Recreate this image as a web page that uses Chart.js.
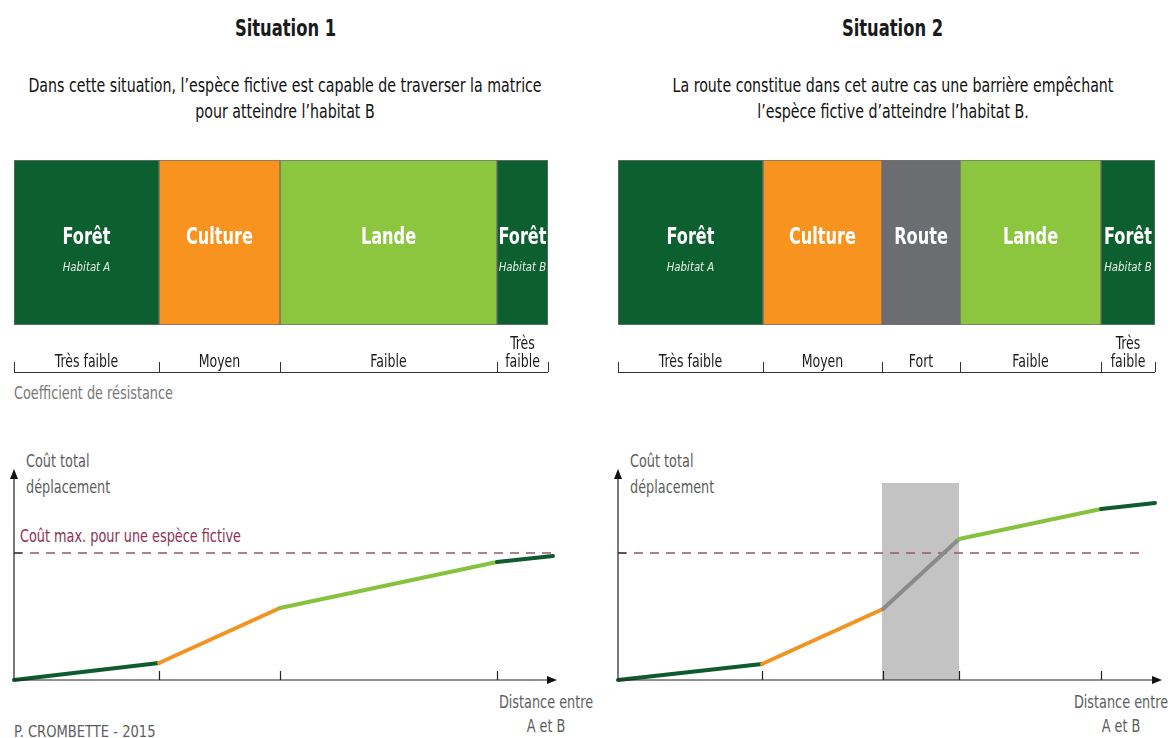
<!DOCTYPE html>
<html lang="fr">
<head>
<meta charset="utf-8">
<script src="https://cdn.jsdelivr.net/npm/chart.js@4/dist/chart.umd.min.js"></script>
<style>
  html, body { margin: 0; padding: 0; background: #fff; }
  body { width: 1170px; height: 738px; position: relative; overflow: hidden;
         font-family: 'DejaVu Sans Condensed', 'DejaVu Sans', sans-serif; color: #1a1a1a; }
  canvas { position: absolute; }
  .t { position: absolute; white-space: nowrap; transform-origin: 0 0; }
  .c { text-align: center; transform-origin: 50% 0; }
  .title { font-weight: bold; font-size: 23px; width: 585px; top: 15px; transform: scaleX(0.79); }
  .sub { font-size: 19px; width: 800px; top: 72px; line-height: 26px; transform: scaleX(0.83); color: #111; }
  .axis { font-size: 17px; color: #5d5d5d; line-height: 26px; transform: scaleX(0.84); }
  .dist { font-size: 17px; color: #5d5d5d; line-height: 24px; width: 140px; transform: scaleX(0.84); }
</style>
</head>
<body>
<div class="t c title" style="left:-7px">Situation 1</div>
<div class="t c title" style="left:600px">Situation 2</div>
<div class="t c sub" style="left:-115px">Dans cette situation, l’espèce fictive est capable de traverser la matrice<br>pour atteindre l’habitat B</div>
<div class="t c sub" style="left:493px">La route constitue dans cet autre cas une barrière empêchant<br>l’espèce fictive d’atteindre l’habitat B.</div>
<div class="t axis" style="left:14px;top:380px;color:#777">Coefficient de résistance</div>

<div class="t axis" style="left:26px;top:448px">Coût total<br>déplacement</div>
<div class="t axis" style="left:630px;top:448px">Coût total<br>déplacement</div>
<div class="t axis" style="left:20px;top:523px;color:#8e3050">Coût max. pour une espèce fictive</div>
<div class="t c dist" style="left:476px;top:690px">Distance entre<br>A et B</div>
<div class="t c dist" style="left:1051px;top:690px">Distance entre<br>A et B</div>
<div class="t axis" style="left:14px;top:719px;font-size:16px;transform:scaleX(0.91)">P. CROMBETTE - 2015</div>

<canvas id="blocks1" width="585" height="250" style="left:0;top:150px"></canvas>
<canvas id="blocks2" width="570" height="250" style="left:600px;top:150px"></canvas>
<canvas id="cost1" width="585" height="298" style="left:0;top:440px"></canvas>
<canvas id="cost2" width="570" height="298" style="left:600px;top:440px"></canvas>

<script>
// Situation 1 : occupation du sol entre A et B
const s1Zones = ['Forêt', 'Culture', 'Lande', 'Forêt'];
const s1Notes = ['Habitat A', '', '', 'Habitat B'];
const s1Widths = [145, 121, 217, 51];
const s1Resist = ['Très faible', 'Moyen', 'Faible', 'Très faible'];
const s1Dist = [0, 145, 266, 483, 539];
const s1Cost = [0, 17, 72, 118, 124];

// Situation 2 : la route fait barrière
const s2Zones = ['Forêt', 'Culture', 'Route', 'Lande', 'Forêt'];
const s2Notes = ['Habitat A', '', '', '', 'Habitat B'];
const s2Widths = [145, 119, 78, 141, 54];
const s2Resist = ['Très faible', 'Moyen', 'Fort', 'Faible', 'Très faible'];
const s2Dist = [0, 144, 265, 341, 483, 537];
const s2Cost = [0, 16, 71, 141, 171, 177];
const s2Barrier = [264, 341];
const s2BarrierTop = 197;

const maxCost = 127;
const costAxisMax = 211;

const FONT = "'DejaVu Sans Condensed', 'DejaVu Sans', sans-serif";
const zoneColors = { 'Forêt': '#0c5f2f', 'Culture': '#f7931e', 'Lande': '#8cc63f', 'Route': '#6c6d70' };
const lineColors = { 'Forêt': '#0f5a2e', 'Culture': '#f39322', 'Lande': '#86c23e', 'Route': '#8a8a8a' };

Chart.defaults.animation = false;
Chart.defaults.font.family = FONT;

// narrow text (the original uses a condensed face)
function narrowText(ctx, txt, x, y, sx) {
  ctx.save();
  ctx.translate(x, y);
  ctx.scale(sx, 1);
  ctx.fillText(txt, 0, 0);
  ctx.restore();
}

// labels inside blocks + resistance bracket below
const blockLabels = {
  id: 'blockLabels',
  afterDatasetsDraw(chart, args, opts) {
    const ctx = chart.ctx;
    const area = chart.chartArea;
    ctx.save();
    ctx.textAlign = 'center';
    chart.data.datasets.forEach((ds, i) => {
      const bar = chart.getDatasetMeta(i).data[0];
      const cx = (bar.x + bar.base) / 2;
      ctx.fillStyle = '#fff';
      ctx.font = 'bold 23px ' + FONT;
      narrowText(ctx, ds.label, cx, area.top + 84, 0.78);
      if (opts.notes[i]) {
        ctx.font = 'italic 13px ' + FONT;
        ctx.fillStyle = '#e8f0e8';
        narrowText(ctx, opts.notes[i], cx, area.top + 111, 0.87);
      }
    });
    // resistance row
    const yLine = area.bottom + 47;
    ctx.strokeStyle = '#333';
    ctx.lineWidth = 1;
    ctx.beginPath();
    ctx.moveTo(area.left, yLine + 0.5);
    ctx.lineTo(area.right, yLine + 0.5);
    const xs = chart.scales.x;
    let acc = 0;
    const edges = [0];
    chart.data.datasets.forEach(ds => { acc += ds.data[0]; edges.push(acc); });
    edges.forEach(v => {
      const px = Math.round(xs.getPixelForValue(v)) + 0.5;
      ctx.moveTo(px, yLine);
      ctx.lineTo(px, yLine - 10);
    });
    ctx.stroke();
    ctx.fillStyle = '#1a1a1a';
    ctx.font = '17px ' + FONT;
    opts.resist.forEach((txt, i) => {
      const a = xs.getPixelForValue(edges[i]);
      const b = xs.getPixelForValue(edges[i + 1]);
      const cx = (a + b) / 2;
      if (ctx.measureText(txt).width * 0.82 > b - a - 8) {
        const words = txt.split(' ');
        narrowText(ctx, words[0], cx, yLine - 23, 0.82);
        narrowText(ctx, words.slice(1).join(' '), cx, yLine - 5, 0.82);
      } else {
        narrowText(ctx, txt, cx, yLine - 5, 0.82);
      }
    });
    ctx.restore();
  }
};

function blocksChart(id, zones, notes, widths, resist, pad) {
  new Chart(document.getElementById(id), {
    type: 'bar',
    plugins: [blockLabels],
    data: {
      labels: ['zones'],
      datasets: zones.map((z, i) => ({
        label: z,
        data: [widths[i]],
        backgroundColor: zoneColors[z],
        borderColor: 'rgba(20,20,20,0.6)',
        borderWidth: 1,
        borderSkipped: false,
        barPercentage: 1,
        categoryPercentage: 1
      }))
    },
    options: {
      indexAxis: 'y',
      responsive: false,
      layout: { padding: pad },
      scales: {
        x: { stacked: true, display: false, min: 0, max: widths.reduce((a, b) => a + b, 0) },
        y: { stacked: true, display: false }
      },
      plugins: {
        legend: { display: false },
        tooltip: { enabled: false },
        blockLabels: { notes: notes, resist: resist }
      }
    }
  });
}

// axes with arrows + ticks at zone limits
const costAxes = {
  id: 'costAxes',
  afterDraw(chart, args, opts) {
    const ctx = chart.ctx;
    const a = chart.chartArea;
    const xs = chart.scales.x;
    const ys = chart.scales.y;
    ctx.save();
    ctx.strokeStyle = '#222';
    ctx.fillStyle = '#111';
    ctx.lineWidth = 1.2;
    ctx.beginPath();
    ctx.moveTo(a.left, a.bottom);
    ctx.lineTo(a.right - 6, a.bottom);
    ctx.moveTo(a.left, a.bottom);
    ctx.lineTo(a.left, a.top + 6);
    opts.ticks.forEach(v => {
      const px = Math.round(xs.getPixelForValue(v)) + 0.5;
      ctx.moveTo(px, a.bottom);
      ctx.lineTo(px, a.bottom - 9);
    });
    const yMax = ys.getPixelForValue(maxCost);
    ctx.moveTo(a.left, yMax);
    ctx.lineTo(a.left + 8, yMax);
    ctx.stroke();
    ctx.beginPath();
    ctx.moveTo(a.right, a.bottom);
    ctx.lineTo(a.right - 10, a.bottom - 4);
    ctx.lineTo(a.right - 10, a.bottom + 4);
    ctx.closePath();
    ctx.moveTo(a.left, a.top);
    ctx.lineTo(a.left - 4, a.top + 10);
    ctx.lineTo(a.left + 4, a.top + 10);
    ctx.closePath();
    ctx.fill();
    ctx.restore();
  }
};

function costChart(id, zones, dist, cost, dashEnd, xMax, pad, barrier) {
  const datasets = [
    {
      data: dist.map((d, i) => ({ x: d, y: cost[i] })),
      borderWidth: 4,
      borderCapStyle: 'round',
      pointRadius: 0,
      tension: 0,
      order: 1,
      segment: { borderColor: c => lineColors[zones[c.p0DataIndex]] }
    },
    {
      data: [{ x: 0, y: maxCost }, { x: dashEnd, y: maxCost }],
      borderColor: '#98566f',
      borderWidth: 1.4,
      borderDash: [9, 7],
      pointRadius: 0,
      order: 2
    }
  ];
  if (barrier) {
    datasets.push({
      data: [{ x: barrier[0], y: s2BarrierTop }, { x: barrier[1], y: s2BarrierTop }],
      borderWidth: 0,
      backgroundColor: '#c3c3c3',
      fill: 'origin',
      pointRadius: 0,
      order: 3
    });
  }
  new Chart(document.getElementById(id), {
    type: 'line',
    plugins: [costAxes],
    data: { datasets: datasets },
    options: {
      responsive: false,
      layout: { padding: pad },
      clip: false,
      scales: {
        x: { type: 'linear', display: false, min: 0, max: xMax },
        y: { display: false, min: 0, max: costAxisMax }
      },
      plugins: {
        legend: { display: false },
        tooltip: { enabled: false },
        costAxes: { ticks: dist.slice(1, -1) }
      }
    }
  });
}

blocksChart('blocks1', s1Zones, s1Notes, s1Widths, s1Resist, { left: 14, right: 37, top: 10, bottom: 75 });
blocksChart('blocks2', s2Zones, s2Notes, s2Widths, s2Resist, { left: 18, right: 15, top: 10, bottom: 75 });
costChart('cost1', s1Zones, s1Dist, s1Cost, 539, 543, { left: 14, right: 28, top: 29, bottom: 58 }, null);
costChart('cost2', s2Zones, s2Dist, s2Cost, 525, 544, { left: 18, right: 8, top: 29, bottom: 58 }, s2Barrier);
</script>
</body>
</html>
